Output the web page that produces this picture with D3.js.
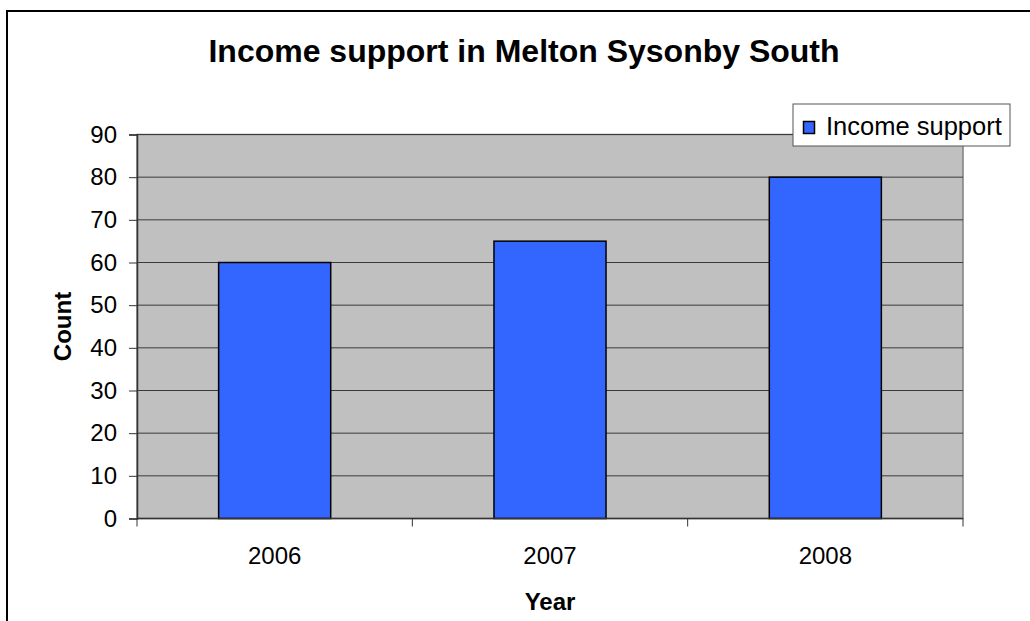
<!DOCTYPE html>
<html>
<head>
<meta charset="utf-8">
<script src="https://cdn.jsdelivr.net/npm/d3@7"></script>
<style>
  html, body { margin: 0; padding: 0; background: #fff; }
  svg { display: block; font-family: "Liberation Sans", Arial, sans-serif; }
</style>
</head>
<body>
<div id="chart"></div>
<script>
// data
const years = ["2006", "2007", "2008"];
const incomeSupport = [60, 65, 80];
const yTicks = [0, 10, 20, 30, 40, 50, 60, 70, 80, 90];
const seriesName = "Income support";

const width = 1030, height = 621;
const plot = { left: 137, right: 963, top: 134.5, bottom: 518.5 };

const svg = d3.select("#chart").append("svg")
  .attr("width", width).attr("height", height);

// outer chart border (runs off the right / bottom of the picture)
svg.append("rect")
  .attr("x", 7).attr("y", 11)
  .attr("width", width + 20).attr("height", height + 20)
  .attr("fill", "#fff").attr("stroke", "#000").attr("stroke-width", 2);

const x = d3.scaleBand().domain(years)
  .range([plot.left, plot.right])
  .paddingInner(0.593).paddingOuter(0.2965);
const y = d3.scaleLinear().domain([0, 90]).range([plot.bottom, plot.top]);

// plot area
svg.append("rect")
  .attr("x", plot.left).attr("y", plot.top)
  .attr("width", plot.right - plot.left).attr("height", plot.bottom - plot.top)
  .attr("fill", "#c0c0c0").attr("stroke", "#808080").attr("stroke-width", 1.5);

// gridlines
svg.append("g").selectAll("line").data(yTicks.filter(d => d > 0)).enter().append("line")
  .attr("x1", plot.left).attr("x2", plot.right)
  .attr("y1", d => y(d)).attr("y2", d => y(d))
  .attr("stroke", "#3a3a3a").attr("stroke-width", 1);

// bars
svg.append("g").selectAll("rect").data(incomeSupport).enter().append("rect")
  .attr("x", (d, i) => x(years[i]))
  .attr("y", d => y(d))
  .attr("width", x.bandwidth())
  .attr("height", d => y(0) - y(d))
  .attr("fill", "#3366ff").attr("stroke", "#000").attr("stroke-width", 1.5);

// y axis
const yAxis = svg.append("g").attr("transform", `translate(${plot.left},0)`)
  .call(d3.axisLeft(y).tickValues(yTicks).tickSize(8).tickPadding(12));
yAxis.select(".domain").attr("stroke", "#333").attr("stroke-width", 1.5);
yAxis.selectAll(".tick line").attr("stroke", "#333");
yAxis.selectAll(".tick text").attr("font-size", 24).attr("fill", "#000")
  .style("font-family", "'Liberation Sans', Arial, sans-serif");

// x axis: ticks at category boundaries
const gap = x.step() * x.paddingInner() / 2;
const bounds = years.map(d => x(d) - gap).concat([plot.right]);
const xg = svg.append("g");
xg.append("line")
  .attr("x1", plot.left).attr("x2", plot.right)
  .attr("y1", plot.bottom).attr("y2", plot.bottom)
  .attr("stroke", "#333").attr("stroke-width", 1.5);
xg.selectAll("line.tk").data(bounds).enter().append("line").attr("class", "tk")
  .attr("x1", d => d).attr("x2", d => d)
  .attr("y1", plot.bottom).attr("y2", plot.bottom + 8)
  .attr("stroke", "#333").attr("stroke-width", 1);
xg.selectAll("text").data(years).enter().append("text")
  .attr("x", d => x(d) + x.bandwidth() / 2).attr("y", 564)
  .attr("text-anchor", "middle").attr("font-size", 24).attr("fill", "#000")
  .text(d => d);

// titles
svg.append("text")
  .attr("x", 524).attr("y", 62).attr("text-anchor", "middle")
  .attr("font-size", 32).attr("font-weight", "bold").text("Income support in Melton Sysonby South");
svg.append("text")
  .attr("x", (plot.left + plot.right) / 2).attr("y", 610).attr("text-anchor", "middle")
  .attr("font-size", 24).attr("font-weight", "bold").text("Year");
svg.append("text")
  .attr("transform", `translate(71,${(plot.top + plot.bottom) / 2}) rotate(-90)`)
  .attr("text-anchor", "middle")
  .attr("font-size", 24).attr("font-weight", "bold").text("Count");

// legend
const lg = svg.append("g");
lg.append("rect").attr("x", 793).attr("y", 104).attr("width", 217).attr("height", 42)
  .attr("fill", "#fff").attr("stroke", "#555").attr("stroke-width", 1);
lg.append("rect").attr("x", 803.5).attr("y", 121.5).attr("width", 11).attr("height", 12)
  .attr("fill", "#3366ff").attr("stroke", "#000").attr("stroke-width", 1.5);
lg.append("text").attr("x", 826).attr("y", 135).attr("font-size", 25.5).attr("fill", "#000")
  .text(seriesName);
</script>
</body>
</html>
